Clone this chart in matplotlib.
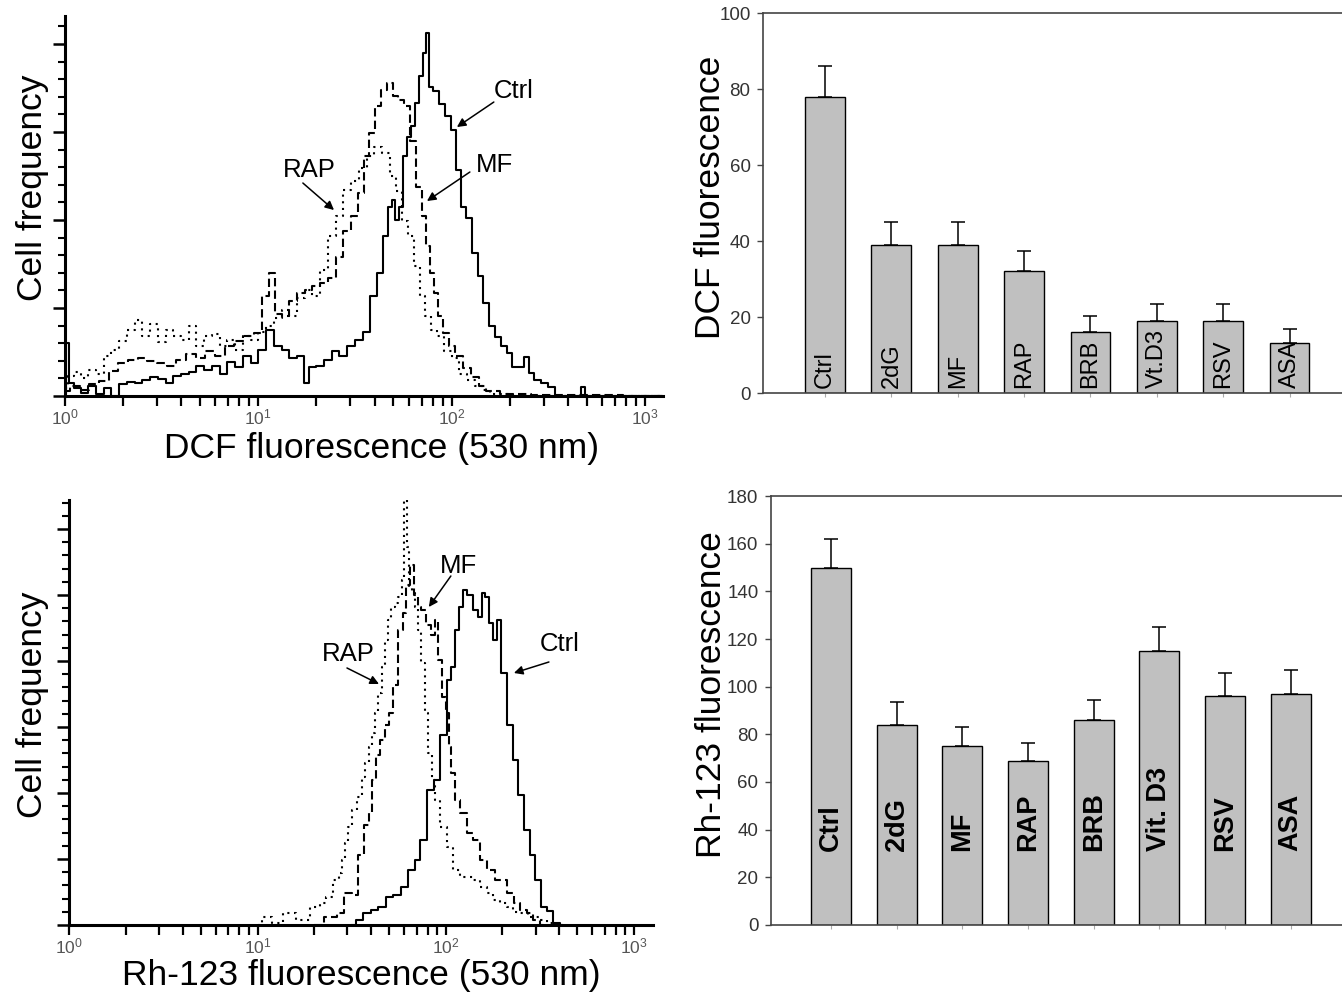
import numpy as np
import matplotlib
matplotlib.use('Agg')
import matplotlib.pyplot as plt
from matplotlib.ticker import MultipleLocator, FixedLocator, NullFormatter

plt.rcParams['font.family'] = ['Liberation Sans', 'DejaVu Sans']
NARROW = ['Liberation Sans Narrow', 'Liberation Sans', 'DejaVu Sans']

# ---- flow cytometry histograms (channel position as log10 of fluorescence, cell counts) ----
# DCF panel
dcf_ctrl_log = [0.0, 0.01, 0.03, 0.06, 0.10, 0.14, 0.18, 0.22, 0.26, 0.30,
                0.34, 0.38, 0.42, 0.46, 0.50, 0.54, 0.58, 0.62, 0.66, 0.70,
                0.74, 0.78, 0.82, 0.86, 0.90, 0.94, 0.98, 1.02, 1.06, 1.10,
                1.14, 1.18, 1.22, 1.25, 1.28, 1.32, 1.36, 1.40, 1.44, 1.48,
                1.52, 1.56, 1.60, 1.63, 1.66, 1.68, 1.70, 1.72, 1.74, 1.76,
                1.78, 1.80, 1.82, 1.84, 1.86, 1.875, 1.89, 1.92, 1.95, 1.98,
                2.01, 2.04, 2.06, 2.09, 2.12, 2.15, 2.18, 2.21, 2.24, 2.27,
                2.30, 2.33, 2.36, 2.39, 2.41, 2.44, 2.48, 2.52, 2.55, 2.60,
                2.66, 2.68, 2.70, 2.80, 3.0, 3.09]
dcf_ctrl = [2, 53, 13, 8, 3, 10, 2, 8, 0, 12,
            14, 13, 16, 19, 17, 13, 20, 22, 24, 30,
            26, 30, 22, 34, 29, 40, 33, 46, 66, 50,
            46, 38, 40, 13, 29, 30, 36, 45, 40, 50,
            56, 64, 100, 123, 160, 189, 196, 176, 189, 240,
            259, 270, 293, 320, 343, 363, 309, 305, 292, 280,
            266, 226, 189, 178, 143, 120, 93, 70, 59, 50,
            43, 29, 29, 39, 23, 16, 13, 9, 0, 0,
            0, 9, 0, 0, 0, 0]

dcf_mf_log = [0.0, 0.05, 0.10, 0.15, 0.20, 0.25, 0.30, 0.35, 0.40, 0.45,
              0.50, 0.55, 0.60, 0.65, 0.70, 0.75, 0.80, 0.85, 0.90, 0.95,
              1.00, 1.04, 1.07, 1.10, 1.14, 1.18, 1.22, 1.26, 1.30, 1.34,
              1.38, 1.42, 1.46, 1.50, 1.53, 1.56, 1.59, 1.62, 1.65, 1.68,
              1.71, 1.74, 1.77, 1.80, 1.83, 1.86, 1.88, 1.90, 1.92, 1.94,
              1.97, 2.00, 2.04, 2.08, 2.12, 2.16, 2.20, 2.30, 2.50, 3.09]
dcf_mf = [5, 10, 6, 12, 15, 25, 33, 36, 38, 35,
          33, 30, 36, 42, 38, 45, 40, 50, 55, 60,
          63, 100, 123, 82, 80, 95, 103, 106, 110, 113,
          118, 139, 165, 180, 203, 240, 263, 290, 306, 313,
          300, 296, 290, 255, 209, 180, 150, 123, 103, 80,
          63, 50, 40, 28, 19, 10, 5, 2, 1, 0]

dcf_rap_log = [0.0, 0.03, 0.06, 0.10, 0.14, 0.18, 0.22, 0.26, 0.30, 0.34,
               0.38, 0.42, 0.46, 0.50, 0.54, 0.58, 0.62, 0.66, 0.70, 0.74,
               0.78, 0.82, 0.86, 0.90, 0.94, 0.98, 1.02, 1.06, 1.10, 1.14,
               1.18, 1.22, 1.26, 1.30, 1.34, 1.38, 1.42, 1.46, 1.50, 1.54,
               1.58, 1.62, 1.66, 1.70, 1.73, 1.76, 1.79, 1.82, 1.85, 1.88,
               1.91, 1.94, 1.98, 2.02, 2.06, 2.10, 2.14, 2.18, 2.22, 2.40, 3.09]
dcf_rap = [8, 20, 24, 18, 26, 22, 40, 46, 55, 66,
           76, 60, 72, 54, 66, 60, 56, 70, 50, 60,
           62, 50, 56, 46, 60, 56, 64, 70, 78, 86,
           80, 98, 106, 100, 126, 160, 180, 206, 215, 228,
           240, 249, 243, 220, 205, 175, 160, 130, 100, 80,
           66, 60, 45, 38, 22, 16, 10, 6, 2, 0, 0]

# Rh-123 panel
rh_ctrl_log = [1.50, 1.54, 1.58, 1.62, 1.66, 1.70, 1.74, 1.78, 1.82, 1.85,
               1.88, 1.92, 1.95, 1.99, 2.02, 2.04, 2.06, 2.08, 2.10, 2.13,
               2.16, 2.18, 2.20, 2.22, 2.24, 2.26, 2.28, 2.31, 2.34, 2.37,
               2.40, 2.43, 2.46, 2.49, 2.52, 2.55, 2.59, 2.62]
rh_ctrl = [0, 5, 12, 15, 18, 28, 30, 38, 55, 65,
           85, 135, 145, 190, 245, 258, 295, 318, 335, 330,
           315, 308, 332, 328, 302, 285, 305, 252, 200, 165,
           130, 95, 70, 45, 18, 14, 2, 0]

rh_mf_log = [1.30, 1.40, 1.44, 1.48, 1.52, 1.55, 1.58, 1.60, 1.62, 1.64,
             1.66, 1.69, 1.71, 1.73, 1.76, 1.78, 1.80, 1.82, 1.84, 1.86,
             1.88, 1.91, 1.93, 1.95, 1.97, 1.99, 2.01, 2.02, 2.04, 2.06,
             2.09, 2.13, 2.16, 2.20, 2.24, 2.28, 2.31, 2.34, 2.38, 2.41,
             2.45, 2.48, 2.52]
rh_mf = [0, 8, 12, 32, 30, 70, 100, 112, 145, 170,
         185, 200, 212, 240, 295, 312, 340, 360, 330, 318,
         315, 300, 290, 305, 265, 228, 212, 178, 152, 125,
         112, 92, 85, 65, 55, 45, 45, 32, 22, 15,
         12, 5, 0]

rh_rap_log = [1.00, 1.05, 1.10, 1.17, 1.24, 1.31, 1.35, 1.38, 1.42, 1.44,
              1.46, 1.47, 1.49, 1.51, 1.545, 1.56, 1.58, 1.60, 1.615, 1.63,
              1.65, 1.668, 1.685, 1.70, 1.72, 1.74, 1.757, 1.775, 1.783, 1.80,
              1.81, 1.827, 1.845, 1.86, 1.88, 1.90, 1.916, 1.934, 1.95, 1.99,
              2.02, 2.06, 2.09, 2.13, 2.16, 2.20, 2.235, 2.27, 2.306, 2.34,
              2.377, 2.41, 2.465, 2.52, 2.55, 2.60]
rh_rap = [0, 8, 2, 12, 5, 18, 22, 28, 45, 52,
          65, 82, 98, 115, 128, 148, 162, 178, 192, 212,
          232, 258, 285, 305, 318, 322, 328, 345, 425, 378,
          338, 332, 318, 295, 262, 212, 172, 145, 125, 98,
          78, 55, 48, 48, 45, 38, 32, 25, 22, 18,
          13, 12, 8, 5, 2, 0]

decade_ticks = [1, 10, 100, 1000]
decade_labels = [r'$\mathregular{10^{0}}$', r'$\mathregular{10^{1}}$',
                 r'$\mathregular{10^{2}}$', r'$\mathregular{10^{3}}$']

# ---- bar charts ----
dcf_cats = ['Ctrl', '2dG', 'MF', 'RAP', 'BRB', 'Vt.D3', 'RSV', 'ASA']
dcf_vals = [78, 39, 39, 32, 16, 19, 19, 13.2]
dcf_err = [8, 6, 6, 5.5, 4.3, 4.3, 4.3, 3.6]

rh_cats = ['Ctrl', '2dG', 'MF', 'RAP', 'BRB', 'Vit. D3', 'RSV', 'ASA']
rh_vals = [150, 84, 75, 69, 86, 115, 96, 97]
rh_err = [12, 9.4, 8.1, 7.4, 8.5, 10, 9.7, 10.2]

fig = plt.figure(figsize=(13.42, 9.96), dpi=100)


def histogram_panel(rect, curves, xmax, ytop, major, xlabel, xlab_y, ylab_xy, notes):
    ax = fig.add_axes(rect)
    for logs, counts, ls in curves:
        ax.plot(10 ** np.array(logs), counts, drawstyle='steps-mid', color='k',
                lw=1.5, ls=ls)
    ax.set_xscale('log')
    ax.set_xlim(1, xmax)
    ax.set_ylim(0, ytop)
    for s in ['top', 'right']:
        ax.spines[s].set_visible(False)
    for s in ['left', 'bottom']:
        ax.spines[s].set_linewidth(2.2)
    ax.yaxis.set_major_locator(MultipleLocator(major))
    ax.yaxis.set_minor_locator(MultipleLocator(major / 5))
    ax.tick_params(axis='y', which='major', direction='out', length=9, width=1.8,
                   labelleft=False)
    ax.tick_params(axis='y', which='minor', direction='out', length=5, width=1.5)
    ax.set_xticks(decade_ticks)
    ax.set_xticklabels(decade_labels, fontsize=12.5, color='#555555')
    minor = [m * d for d in [1, 10, 100] for m in range(2, 10)]
    ax.xaxis.set_minor_locator(FixedLocator(minor))
    ax.xaxis.set_minor_formatter(NullFormatter())
    ax.tick_params(axis='x', which='both', direction='out', length=7, width=1.6, pad=1)
    ax.set_xlabel(xlabel, fontsize=25.5, va='center')
    ax.xaxis.set_label_coords(xlab_y[0], xlab_y[1])
    ax.set_ylabel('Cell frequency', fontsize=25.5, va='center')
    ax.yaxis.set_label_coords(*ylab_xy)
    for text, txy, tail, head in notes:
        ax.text(txy[0], txy[1], text, fontsize=18.5, ha='center', va='center')
        ax.annotate('', xy=head, xytext=tail,
                    arrowprops=dict(arrowstyle='-|>', color='k', lw=1.1,
                                    mutation_scale=13, shrinkA=0, shrinkB=0))
    return ax


histogram_panel([0.0484, 0.6024, 0.4456, 0.3815],
                [(dcf_ctrl_log, dcf_ctrl, '-'),
                 (dcf_mf_log, dcf_mf, (0, (4, 2))),
                 (dcf_rap_log, dcf_rap, (0, (1, 2.2)))],
                10 ** 3.094, 380, 88, 'DCF fluorescence (530 nm)',
                (0.53, -0.139), (-0.0535, 0.547),
                [('Ctrl', (210, 305), (10 ** 2.219, 294), (10 ** 2.028, 269)),
                 ('MF', (10 ** 2.224, 231), (10 ** 2.095, 224), (10 ** 1.873, 195)),
                 ('RAP', (10 ** 1.262, 226), (10 ** 1.231, 213), (10 ** 1.392, 186))])

histogram_panel([0.0517, 0.0713, 0.4346, 0.4267],
                [(rh_ctrl_log, rh_ctrl, '-'),
                 (rh_mf_log, rh_mf, (0, (4, 2))),
                 (rh_rap_log, rh_rap, (0, (1, 2.2)))],
                10 ** 3.099, 425, 66, 'Rh-123 fluorescence (530 nm)',
                (0.5, -0.12), (-0.0624, 0.518),
                [('MF', (10 ** 2.07, 359), (10 ** 2.027, 349), (10 ** 1.91, 318)),
                 ('Ctrl', (10 ** 2.607, 281), (10 ** 2.548, 263), (10 ** 2.362, 252)),
                 ('RAP', (10 ** 1.48, 271), (10 ** 1.475, 257), (10 ** 1.645, 241))])


def bar_panel(rect, cats, vals, errs, xlim, ytop, width, ylabel, ylab_xy,
              lab_y, lab_size, lab_weight):
    ax = fig.add_axes(rect)
    x = np.arange(len(cats))
    ax.bar(x, vals, width=width, color='#c0c0c0', edgecolor='k', lw=1.0, zorder=2)
    ax.errorbar(x, vals, yerr=[np.zeros(len(vals)), errs], fmt='none', ecolor='k',
                elinewidth=1.1, capsize=5, capthick=1.1, zorder=1)
    for i, lab in enumerate(cats):
        ax.text(i, lab_y, lab, rotation=90, ha='center', va='bottom',
                fontsize=lab_size, fontweight=lab_weight, zorder=3)
    ax.set_xlim(*xlim)
    ax.set_ylim(0, ytop)
    ax.yaxis.set_major_locator(MultipleLocator(20))
    ax.set_xticks(x)
    ax.set_xticklabels([])
    ax.tick_params(axis='x', length=3, color='#aaaaaa', direction='out')
    ax.tick_params(axis='y', length=4, width=1, color='#444444', direction='out',
                   labelsize=13.5, labelcolor='#333333', pad=5)
    for t in ax.get_yticklabels():
        t.set_family(NARROW)
    ax.spines['right'].set_visible(False)
    for s in ['left', 'bottom', 'top']:
        ax.spines[s].set_color('#444444')
        ax.spines[s].set_linewidth(1.2)
    ax.set_ylabel(ylabel, fontsize=25.5, va='center')
    ax.yaxis.set_label_coords(*ylab_xy)
    return ax


bar_panel([0.5686, 0.6054, 0.4314, 0.3815], dcf_cats, dcf_vals, dcf_err,
          (-0.934, 7.79), 100, 0.6, 'DCF fluorescence', (-0.09, 0.514),
          1.3, 17, 'normal')
bar_panel([0.5745, 0.0713, 0.4255, 0.4307], rh_cats, rh_vals, rh_err,
          (-0.913, 7.78), 180, 0.61, 'Rh-123 fluorescence', (-0.105, 0.536),
          31, 19.5, 'bold')

fig.savefig('out.png', dpi=100)
